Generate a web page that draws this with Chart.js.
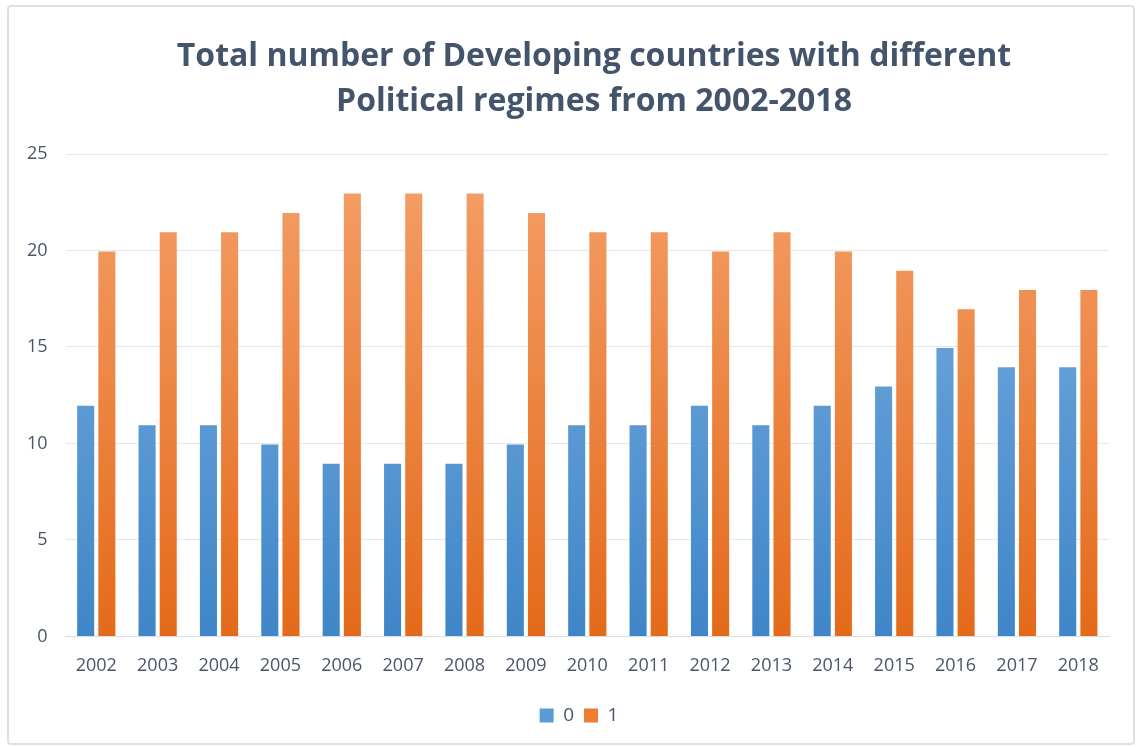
<!DOCTYPE html>
<html>
<head>
<meta charset="utf-8">
<script src="https://cdn.jsdelivr.net/npm/chart.js@4"></script>
<style>
  html, body { margin: 0; padding: 0; background: #fff; }
  #wrap {
    position: absolute; left: 7px; top: 5px;
    width: 1128px; height: 740px;
    border: 2px solid #DDE1E6; border-radius: 4px; box-sizing: border-box;
    background: #fff;
  }
  canvas { display: block; }
</style>
</head>
<body>
<div id="wrap"><canvas id="chart"></canvas></div>
<script>
const years = ['2002','2003','2004','2005','2006','2007','2008','2009','2010',
               '2011','2012','2013','2014','2015','2016','2017','2018'];
const regime0 = [12, 11, 11, 10, 9, 9, 9, 10, 11, 11, 12, 11, 12, 13, 15, 14, 14];
const regime1 = [20, 21, 21, 22, 23, 23, 23, 22, 21, 21, 20, 21, 20, 19, 17, 18, 18];
const yTicks = [0, 5, 10, 15, 20, 25];
const titleLines = ['Total number of Developing countries with different',
                    'Political regimes from 2002-2018'];

const textColor = '#4A5568';

function gradient(top, bottom) {
    return function (context) {
        const area = context.chart.chartArea;
        if (!area) return bottom;
        const g = context.chart.ctx.createLinearGradient(0, area.top, 0, area.bottom);
        g.addColorStop(0, top);
        g.addColorStop(1, bottom);
        return g;
    };
}

// title is centred a bit right of the canvas middle, like the original;
// the legend sits a little right of centre too
const titlePlugin = {
    id: 'offsetTitle',
    afterLayout(chart) {
        if (chart.legend) {
            chart.legend.left += 20;
            chart.legend.right += 20;
        }
    },
    afterDraw(chart) {
        const ctx = chart.ctx;
        ctx.save();
        ctx.font = 'bold 32px "Open Sans"';
        ctx.fillStyle = '#44546A';
        ctx.textAlign = 'center';
        ctx.textBaseline = 'middle';
        ctx.fillText(titleLines[0], 585, 50);
        ctx.fillText(titleLines[1], 585, 95);
        ctx.restore();
    }
};

new Chart(document.getElementById('chart'), {
    type: 'bar',
    data: {
        labels: years,
        datasets: [{
            label: '0',
            data: regime0,
            backgroundColor: gradient('#7EB0E2', '#3F86C8'),
            borderColor: 'rgba(255,255,255,0.45)',
            borderWidth: 1,
            barPercentage: 0.9,
            categoryPercentage: 0.69
        }, {
            label: '1',
            data: regime1,
            backgroundColor: gradient('#F4A06A', '#E46A1A'),
            borderColor: 'rgba(255,255,255,0.45)',
            borderWidth: 1,
            barPercentage: 0.9,
            categoryPercentage: 0.69
        }]
    },
    plugins: [titlePlugin],
    options: {
        responsive: true,
        maintainAspectRatio: false,
        animation: false,
        layout: { padding: { left: 0, right: 24, top: 147, bottom: 8 } },
        plugins: {
            title: { display: false },
            legend: {
                position: 'bottom',
                labels: {
                    color: textColor,
                    boxWidth: 14,
                    boxHeight: 14,
                    font: { family: 'Open Sans', size: 19 },
                    padding: 10,
                    generateLabels: function (chart) {
                        const cols = ['#5B9BD5', '#ED7D31'];
                        return chart.data.datasets.map((ds, i) => ({
                            text: ds.label,
                            fillStyle: cols[i],
                            strokeStyle: cols[i],
                            lineWidth: 0,
                            fontColor: textColor,
                            datasetIndex: i
                        }));
                    }
                }
            },
            tooltip: { enabled: false }
        },
        scales: {
            x: {
                grid: { display: false, drawTicks: false },
                border: { color: '#D9DDE3', width: 1 },
                ticks: {
                    color: textColor,
                    font: { family: 'Open Sans', size: 18 },
                    padding: 19
                }
            },
            y: {
                min: 0,
                max: 25,
                afterBuildTicks: function (axis) {
                    axis.ticks = yTicks.map(v => ({ value: v }));
                },
                grid: { color: '#E3E6EB', drawTicks: false },
                border: { display: false },
                ticks: {
                    color: textColor,
                    font: { family: 'Open Sans', size: 18 },
                    padding: 18
                }
            }
        }
    }
});
</script>
</body>
</html>
